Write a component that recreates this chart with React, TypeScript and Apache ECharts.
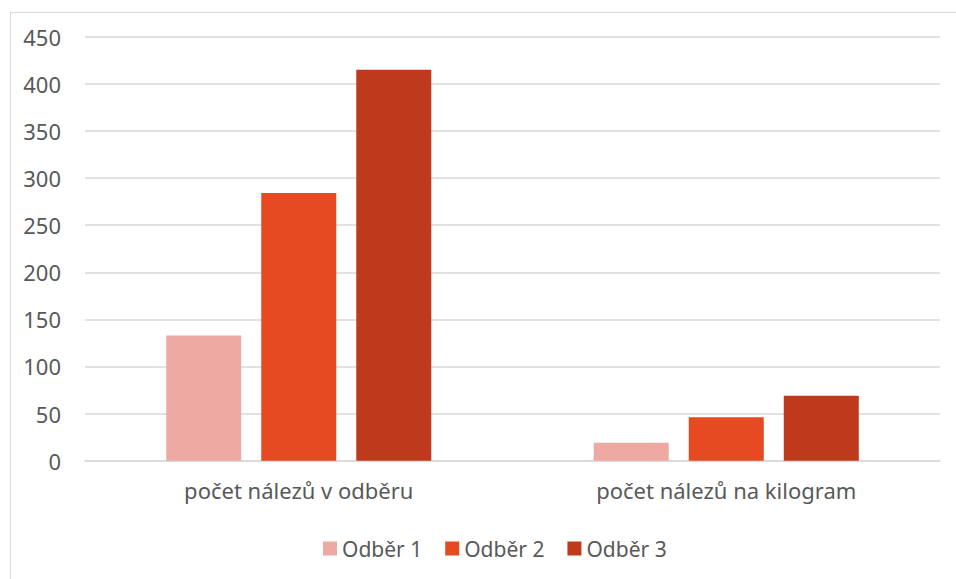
import React, { useEffect, useRef } from "react";
import * as echarts from "echarts";

const categories = ["počet nálezů v odběru", "počet nálezů na kilogram"];
const seriesNames = ["Odběr 1", "Odběr 2", "Odběr 3"];
const odber1 = [133, 19];
const odber2 = [284, 46];
const odber3 = [415, 69];
const colors = ["#EFA9A3", "#E54A23", "#BF3A1C"];

export default function App() {
  const ref = useRef<HTMLDivElement>(null);
  useEffect(() => {
    if (!ref.current) return;
    const chart = echarts.init(ref.current, null, { renderer: "svg" });
    const font = "Noto Sans";
    const values = [odber1, odber2, odber3];
    chart.setOption({
      animation: false,
      backgroundColor: "#ffffff",
      textStyle: { fontFamily: font },
      graphic: [
        {
          type: "rect",
          left: 8,
          top: 10,
          shape: { x: 0.5, y: 0.5, width: 960, height: 600 },
          style: { fill: "none", stroke: "#D9D9D9", lineWidth: 1 },
          silent: true,
        },
      ],
      grid: { left: 85, right: 16, top: 36.7, bottom: 118.3, containLabel: false },
      legend: {
        top: 533,
        left: 318,
        itemWidth: 14,
        itemHeight: 14,
        itemGap: 23,
        icon: "rect",
        textStyle: { color: "#595959", fontSize: 21, fontFamily: font },
        data: seriesNames,
      },
      xAxis: {
        type: "category",
        data: categories,
        axisLine: { show: true, lineStyle: { color: "#D9D9D9", width: 1.5 } },
        axisTick: { show: false },
        axisLabel: { color: "#595959", fontSize: 22, fontFamily: font, margin: 18 },
      },
      yAxis: {
        type: "value",
        min: 0,
        max: 450,
        interval: 50,
        axisLine: { show: false },
        axisTick: { show: false },
        axisLabel: { color: "#595959", fontSize: 22, fontFamily: font, margin: 24 },
        splitLine: { lineStyle: { color: "#D9D9D9", width: 1.5 } },
      },
      series: seriesNames.map((name, i) => ({
        name,
        type: "bar",
        data: values[i],
        barWidth: 75,
        barGap: "26.7%",
        itemStyle: { color: colors[i] },
      })),
    });
    return () => chart.dispose();
  }, []);
  return (
    <div
      ref={ref}
      style={{ position: "absolute", left: 0, top: 0, width: 956, height: 579 }}
    />
  );
}
